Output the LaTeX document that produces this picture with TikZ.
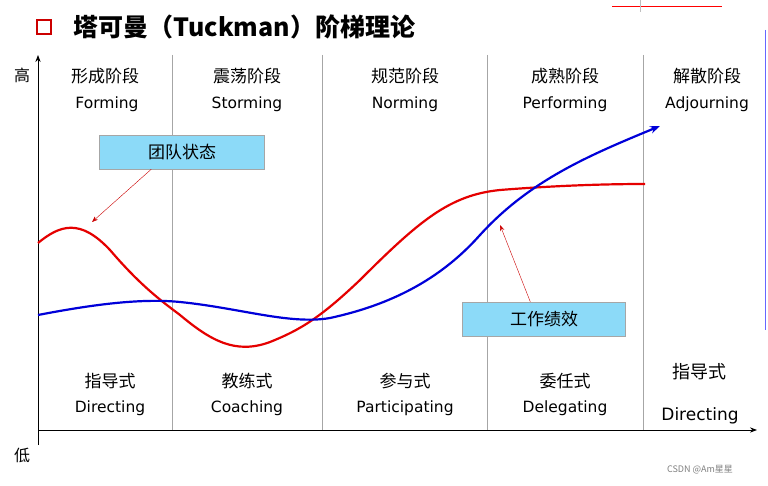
\documentclass[tikz,border=0pt]{standalone}
\usepackage{fontspec}
\setmainfont{DejaVu Sans}
\newfontfamily\cjk{Noto Sans CJK SC}
\usetikzlibrary{arrows.meta}
\begin{document}
\begin{tikzpicture}[x=1pt,y=-1pt,
  stage/.style={font=\cjk\fontsize{17}{17}\selectfont},
  eng/.style={font=\fontsize{15.5}{15.5}\selectfont},
  divider/.style={draw=gray!70,line width=0.8pt},
  callout/.style={draw=gray!70,fill=cyan!45!white,minimum height=34pt,font=\cjk\fontsize{17}{17}\selectfont,inner xsep=0pt},
  axis/.style={line width=1pt,-{Stealth[length=7pt]}}]
\useasboundingbox (0,0) rectangle (768,486);
\fill[white] (0,0) rectangle (768,486);
% title
\draw[red!80!black,line width=2pt] (37,20) rectangle (51,34);
\node[anchor=west,font=\cjk\bfseries\fontsize{25}{25}\selectfont] (title) at (70,27) {塔可曼（Tuckman）阶梯理论};
\draw[red,line width=1pt] (612,7) -- (722,7);
\draw[gray!50] (640,0) -- (640,12);
\draw[blue!60,line width=0.8pt] (765,30) -- (765,330);
% axes
\coordinate (o) at (38,430);
\coordinate (ytop) at (38,55);
\coordinate (xend) at (757,430);
\coordinate (ybot) at (38,445);
\draw[axis] (ybot) -- (ytop);
\draw[axis] (o) -- (xend);
\node[font=\cjk\fontsize{16}{16}\selectfont] (hi) at (22,75) {高};
\node[font=\cjk\fontsize{16}{16}\selectfont] (lo) at (22,455) {低};
% dividers
\foreach \x in {172,322,487,643} \draw[divider] (\x,55) -- (\x,430);
% stages
\node[stage] (s1) at (105,76) {形成阶段};
\node[eng] (e1) at (107,104) {Forming};
\node[stage] (s2) at (247,76) {震荡阶段};
\node[eng] (e2) at (247,104) {Storming};
\node[stage] (s3) at (405,76) {规范阶段};
\node[eng] (e3) at (405,104) {Norming};
\node[stage] (s4) at (565,76) {成熟阶段};
\node[eng] (e4) at (565,104) {Performing};
\node[stage] (s5) at (707,76) {解散阶段};
\node[eng] (e5) at (707,104) {Adjourning};
% styles
\node[stage] (b1) at (110,381) {指导式};
\node[eng] (f1) at (110,408) {Directing};
\node[stage] (b2) at (247,381) {教练式};
\node[eng] (f2) at (247,408) {Coaching};
\node[stage] (b3) at (405,381) {参与式};
\node[eng] (f3) at (405,408) {Participating};
\node[stage] (b4) at (565,381) {委任式};
\node[eng] (f4) at (565,408) {Delegating};
\node[font=\cjk\fontsize{18}{18}\selectfont] (b5) at (699,372) {指导式};
\node[font=\fontsize{17}{17}\selectfont] (f5) at (700,416) {Directing};
% curves
\draw[red!90!black,line width=2.2pt] (38,243) .. controls (60,225) and (80,218) .. (110,250)
  .. controls (140,285) and (160,300) .. (180,315)
  .. controls (210,340) and (235,355) .. (270,342)
  .. controls (300,330) and (320,318) .. (360,280)
  .. controls (420,220) and (450,195) .. (500,190)
  .. controls (550,186) and (600,184) .. (645,184);
\coordinate (bend) at (660,126);
\draw[blue!85!black,line width=2.2pt,-{Stealth[length=10pt]}] (38,315) .. controls (90,305) and (140,298) .. (180,302)
  .. controls (240,308) and (290,325) .. (330,318)
  .. controls (390,305) and (440,280) .. (480,235)
  .. controls (530,180) and (590,155) .. (bend);
% callouts
\node[callout,minimum width=165pt] (team) at (182,152) {团队状态};
\node[callout,minimum width=163pt] (perf) at (544,319) {工作绩效};
\coordinate (tp) at (92,222);
\coordinate (pp) at (500,225);
\draw[red!80!black,-{Stealth[length=6pt]}] (team.south west)++(52,0) -- (tp);
\draw[red!80!black,-{Stealth[length=6pt]}] (perf.north west)++(68,0) -- (pp);
\node[font=\cjk\fontsize{9}{9}\selectfont,text=gray] (wm) at (700,470) {CSDN @Am星星};
\end{tikzpicture}
\end{document}
